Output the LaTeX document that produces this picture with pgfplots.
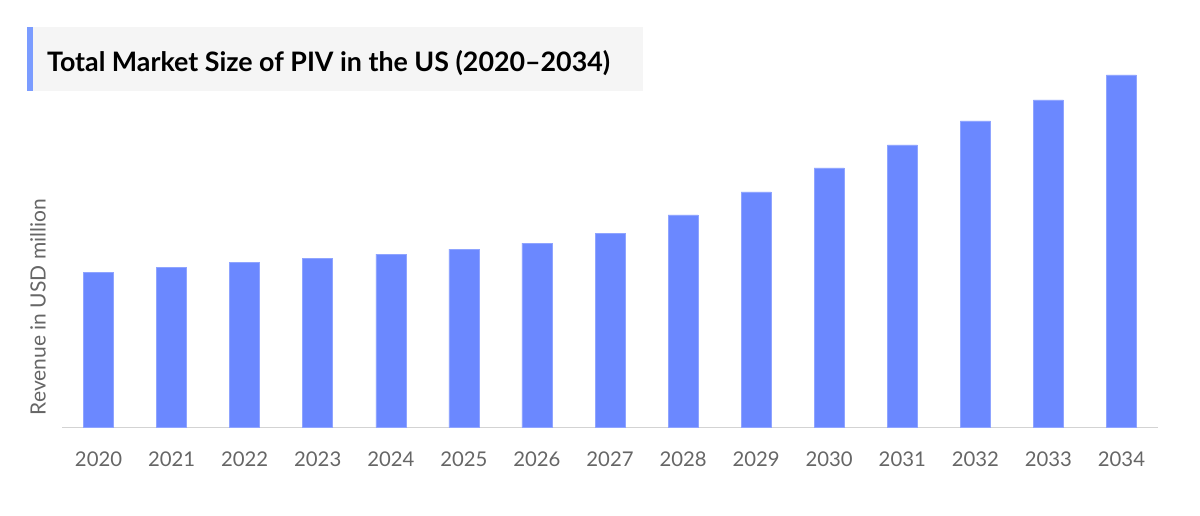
\documentclass[border=0pt]{standalone}
\usepackage{pgfplots}
\pgfplotsset{compat=1.18}
\usepackage{fontspec}
\setmainfont{Lato}
\definecolor{barblue}{HTML}{6B88FF}
\definecolor{baredge}{HTML}{8FA4FF}
\definecolor{titlebg}{HTML}{F5F5F5}
\definecolor{accent}{HTML}{7B9CFF}
\definecolor{axgray}{HTML}{D3D3D3}
\definecolor{labgray}{HTML}{666666}
\begin{document}
\begin{tikzpicture}
\useasboundingbox (0,0) rectangle (1200pt,515pt);
\fill[titlebg] (27pt,424pt) rectangle (643pt,488pt);
\fill[accent] (27pt,424pt) rectangle (33pt,488pt);
\node[anchor=base west, inner sep=0pt, font=\fontsize{26.8}{30}\selectfont\bfseries] at (47pt,443pt) {Total Market Size of PIV in the US (2020–2034)};
\node[rotate=90, inner sep=0pt, text=labgray, font=\fontsize{21}{24}\selectfont] at (38pt,208pt) {Revenue in USD million};
\begin{axis}[
  at={(62pt,88pt)}, anchor=south west,
  scale only axis, width=1096pt, height=367pt,
  xmin=-0.5, xmax=14.5, ymin=0, ymax=367,
  axis y line=none, axis x line*=bottom,
  x axis line style={axgray, line width=1pt, -},
  xtick=data, xtick style={draw=none},
  xticklabels={2020,2021,2022,2023,2024,2025,2026,2027,2028,2029,2030,2031,2032,2033,2034},
  xticklabel style={text=labgray, font=\fontsize{20.3}{24}\selectfont, yshift=-21pt},
  /pgf/number format/assume math mode=true,
  clip=false,
]
\addplot[ybar, bar width=30pt, fill=barblue, draw=baredge, line width=0.6pt] coordinates {
(0,155) (1,160) (2,165) (3,169) (4,173) (5,178) (6,184) (7,194) (8,212) (9,235) (10,259) (11,282) (12,306) (13,327) (14,352)};
\end{axis}
\end{tikzpicture}
\end{document}
